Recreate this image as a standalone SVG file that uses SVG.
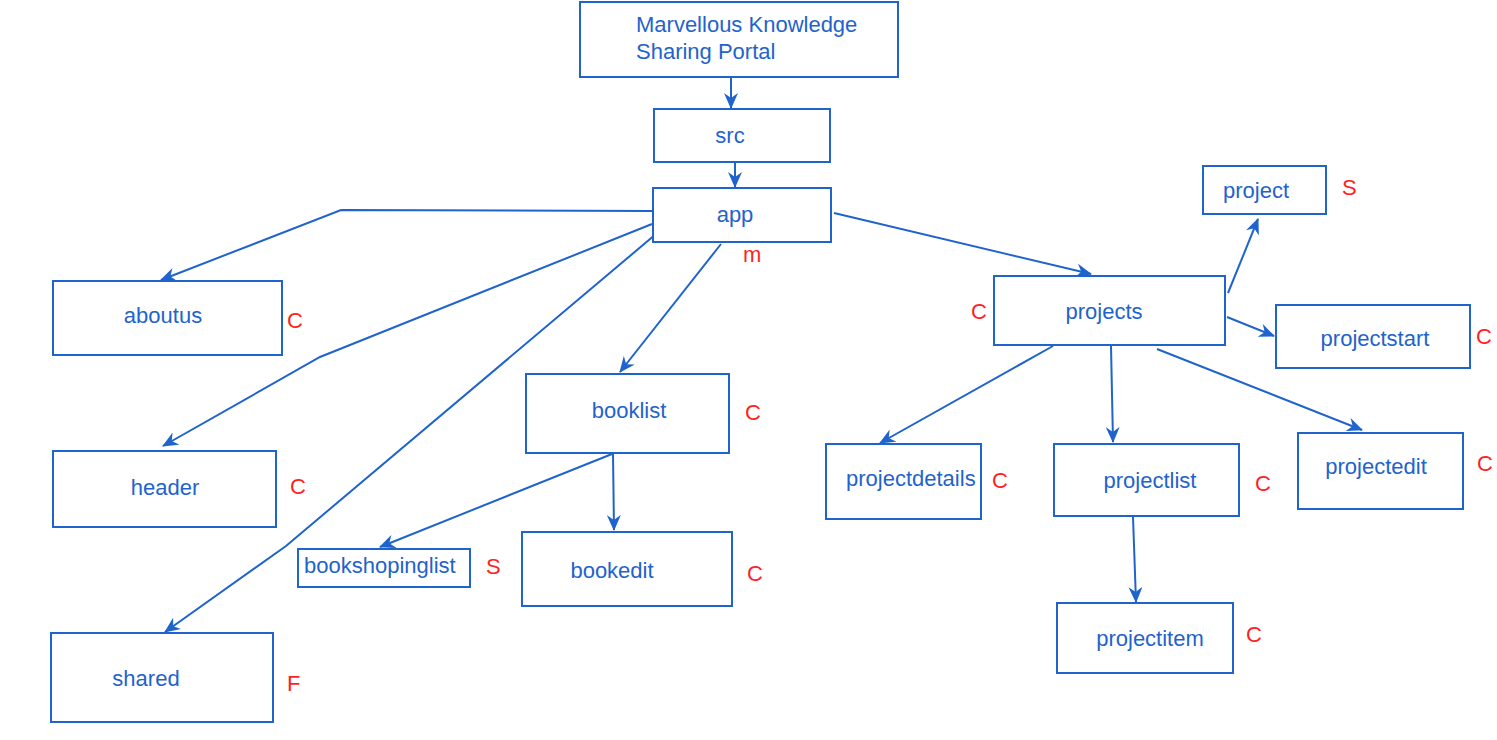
<svg xmlns="http://www.w3.org/2000/svg" width="1497" height="740" viewBox="0 0 1497 740">
<style>
.box{fill:#fff;stroke:#1f63cc;stroke-width:2}
.t{font-family:"Liberation Sans",Arial,sans-serif;font-size:22px;fill:#1f63cc}
.m{text-anchor:middle}
.r{font-family:"Liberation Sans",Arial,sans-serif;font-size:22px;fill:#ff1f1f}
.c{fill:none;stroke:#1f63cc;stroke-width:2}
</style>
<defs>
<marker id="a" markerUnits="userSpaceOnUse" markerWidth="18" markerHeight="14" refX="15" refY="7" orient="auto">
<path d="M0,0 L16,7 L0,14 L5,7 z" fill="#1f63cc"/>
</marker>
</defs>
<rect width="1497" height="740" fill="#fff"/>
<g id="connectors">
<line class="c" x1="731" y1="78" x2="731" y2="108" marker-end="url(#a)"/>
<line class="c" x1="735" y1="163" x2="735" y2="187" marker-end="url(#a)"/>
<polyline class="c" points="652,211 341,210 161,280" marker-end="url(#a)"/>
<polyline class="c" points="652,224 320,357 163,446" marker-end="url(#a)"/>
<polyline class="c" points="656,234 286,546 165,632" marker-end="url(#a)"/>
<line class="c" x1="721" y1="244" x2="620" y2="372" marker-end="url(#a)"/>
<line class="c" x1="834" y1="213" x2="1091" y2="274" marker-end="url(#a)"/>
<line class="c" x1="612" y1="454" x2="380" y2="547" marker-end="url(#a)"/>
<line class="c" x1="613" y1="454" x2="614" y2="530" marker-end="url(#a)"/>
<line class="c" x1="1228" y1="293" x2="1258" y2="219" marker-end="url(#a)"/>
<line class="c" x1="1227" y1="317" x2="1274" y2="336" marker-end="url(#a)"/>
<line class="c" x1="1053" y1="346" x2="880" y2="443" marker-end="url(#a)"/>
<line class="c" x1="1111" y1="346" x2="1113" y2="442" marker-end="url(#a)"/>
<line class="c" x1="1157" y1="349" x2="1362" y2="430" marker-end="url(#a)"/>
<line class="c" x1="1133" y1="517" x2="1136" y2="602" marker-end="url(#a)"/>
</g>
<g id="portal"><rect class="box" x="580" y="2" width="318" height="75"/><text class="t" x="636" y="32">Marvellous Knowledge</text><text class="t" x="636" y="59">Sharing Portal</text></g>
<g id="src"><rect class="box" x="654" y="109" width="176" height="53"/><text class="t m" x="730" y="143">src</text></g>
<g id="app"><rect class="box" x="653" y="188" width="178" height="54"/><text class="t m" x="735" y="222">app</text><text class="r" x="743" y="262">m</text></g>
<g id="aboutus"><rect class="box" x="53" y="281" width="229" height="74"/><text class="t m" x="163" y="323">aboutus</text><text class="r" x="287" y="328">C</text></g>
<g id="header"><rect class="box" x="53" y="451" width="223" height="76"/><text class="t m" x="165" y="495">header</text><text class="r" x="290" y="494">C</text></g>
<g id="shared"><rect class="box" x="51" y="633" width="222" height="89"/><text class="t m" x="146" y="686">shared</text><text class="r" x="287" y="691">F</text></g>
<g id="booklist"><rect class="box" x="526" y="374" width="203" height="79"/><text class="t m" x="629" y="418">booklist</text><text class="r" x="745" y="420">C</text></g>
<g id="bookshopinglist"><rect class="box" x="298" y="549" width="172" height="38"/><text class="t" x="304" y="573">bookshopinglist</text><text class="r" x="486" y="574">S</text></g>
<g id="bookedit"><rect class="box" x="522" y="532" width="210" height="74"/><text class="t m" x="612" y="578">bookedit</text><text class="r" x="747" y="581">C</text></g>
<g id="projects"><rect class="box" x="994" y="276" width="231" height="69"/><text class="t m" x="1104" y="319">projects</text><text class="r" x="971" y="319">C</text></g>
<g id="project"><rect class="box" x="1203" y="166" width="123" height="48"/><text class="t m" x="1256" y="198">project</text><text class="r" x="1342" y="195">S</text></g>
<g id="projectstart"><rect class="box" x="1276" y="305" width="194" height="63"/><text class="t m" x="1375" y="346">projectstart</text><text class="r" x="1476" y="344">C</text></g>
<g id="projectdetails"><rect class="box" x="826" y="444" width="155" height="75"/><text class="t" x="846" y="486">projectdetails</text><text class="r" x="992" y="488">C</text></g>
<g id="projectlist"><rect class="box" x="1054" y="444" width="185" height="72"/><text class="t m" x="1150" y="488">projectlist</text><text class="r" x="1255" y="491">C</text></g>
<g id="projectedit"><rect class="box" x="1298" y="433" width="165" height="76"/><text class="t m" x="1376" y="474">projectedit</text><text class="r" x="1477" y="471">C</text></g>
<g id="projectitem"><rect class="box" x="1057" y="603" width="176" height="70"/><text class="t m" x="1150" y="646">projectitem</text><text class="r" x="1246" y="642">C</text></g>
</svg>
